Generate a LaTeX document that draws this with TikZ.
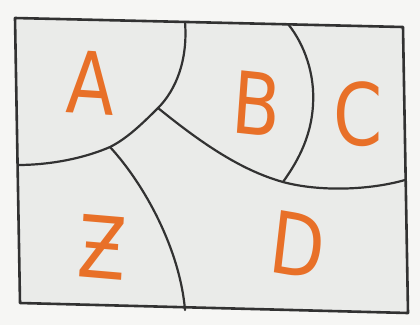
\documentclass[tikz,border=0pt]{standalone}
\usepackage{fontspec}
\setmainfont{DejaVu Sans}
\definecolor{paper}{RGB}{246,246,244}
\definecolor{sheet}{RGB}{234,235,233}
\definecolor{ink}{RGB}{50,50,50}
\definecolor{marker}{RGB}{232,112,40}
\tikzset{
  border/.style={draw=ink, line width=2.6pt, line join=round},
  divider/.style={draw=ink, line width=2.2pt, line cap=round},
  letter/.style={text=marker, font=\fontsize{86}{86}\selectfont, inner sep=0pt, xscale=0.82}
}
\begin{document}
\begin{tikzpicture}[x=1pt,y=-1pt]
\useasboundingbox (0,0) rectangle (420,325);
\fill[paper] (0,0) rectangle (420,325);
% outer sheet
\coordinate (tl) at (15,18);
\coordinate (tr) at (403,27);
\coordinate (br) at (408,313);
\coordinate (bl) at (20,303);
\fill[sheet] (tl) -- (tr) -- (br) -- (bl) -- cycle;
% junctions
\coordinate (atop) at (185,22);
\coordinate (j1) at (158,108);
\coordinate (j2) at (110,147);
\coordinate (aleft) at (18,165);
\coordinate (j3) at (283,182);
\coordinate (dright) at (405,180);
\coordinate (ctop) at (288,24);
\coordinate (ebot) at (185,310);
% dividers
\draw[divider] (atop) .. controls (188,60) and (176,90) .. (j1)
  .. controls (140,126) and (126,139) .. (j2)
  .. controls (80,160) and (45,165) .. (aleft);
\draw[divider] (j1) .. controls (200,142) and (240,170) .. (j3)
  .. controls (320,192) and (370,190) .. (dright);
\draw[divider] (ctop) .. controls (305,45) and (315,75) .. (313,105)
  .. controls (311,140) and (295,165) .. (j3);
\draw[divider] (j2) .. controls (145,185) and (180,250) .. (ebot);
% outline
\draw[border] (tl) -- (tr) -- (br) -- (bl) -- cycle;
% labels
\node[letter, rotate=-3] (la) at (91,83) {A};
\node[letter, rotate=-5] (lb) at (257,104) {B};
\node[letter] (lc) at (358,114) {C};
\node[letter, rotate=-4] (le) at (102,247) {Ƶ};
\node[letter, rotate=-8] (ld) at (298,245) {D};
\end{tikzpicture}
\end{document}
